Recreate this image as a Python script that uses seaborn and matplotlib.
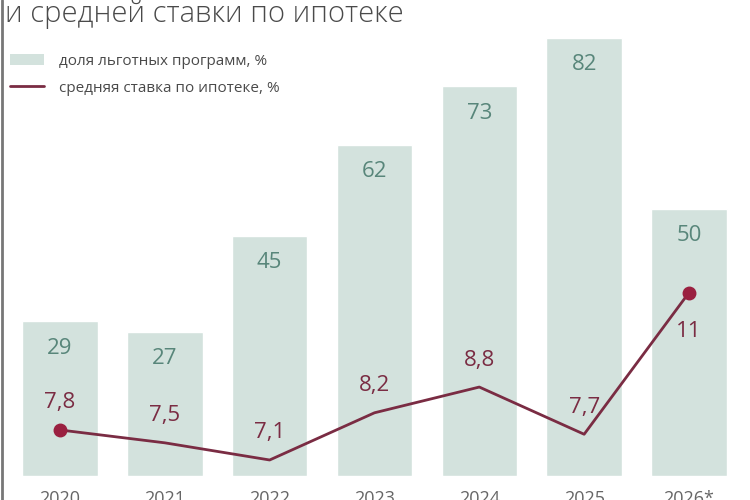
import numpy as np
import pandas as pd
import seaborn as sns
import matplotlib.pyplot as plt
from matplotlib.patches import Patch
from matplotlib.lines import Line2D

# data
years = ['2020', '2021', '2022', '2023', '2024', '2025', '2026*']
share_pct = [29, 27, 45, 62, 73, 82, 50]          # доля льготных программ, %
rate_pct = [7.8, 7.5, 7.1, 8.2, 8.8, 7.7, 11.0]    # средняя ставка по ипотеке, %
rate_labels = ['7,8', '7,5', '7,1', '8,2', '8,8', '7,7', '11']

bar_color = '#d3e2dd'
bar_text = '#58867a'
line_color = '#7a2c43'
dot_color = '#9a2040'
text_gray = '#4a4a4a'

sns.set_theme(style='white')
plt.rcParams['font.family'] = ['Open Sans', 'DejaVu Sans']

df = pd.DataFrame({'year': years, 'share': share_pct, 'rate': rate_pct})

fig = plt.figure(figsize=(7.5, 5), dpi=100)
ax = fig.add_axes([0.0101, 0.048, 0.9784, 0.952])

sns.barplot(data=df, x='year', y='share', color=bar_color, width=0.72,
            saturation=1, ax=ax)
ax.set_xlim(-0.5, 6.5)
ax.set_ylim(0, 89.1)

for i, v in enumerate(share_pct):
    ax.annotate(str(v), (i, v), xytext=(0, -27), textcoords='offset pixels',
                ha='center', va='center', fontsize=16, color=bar_text)

ax2 = ax.twinx()
sns.lineplot(data=df, x='year', y='rate', color=line_color, linewidth=2.0,
             ax=ax2, sort=False)
ax2.plot([0, 6], [rate_pct[0], rate_pct[-1]], 'o', color=dot_color, markersize=9, zorder=5)
ax2.set_ylim(6.727, 17.82)
ax2.set_xlim(-0.5, 6.5)

for i, (v, lab) in enumerate(zip(rate_pct, rate_labels)):
    dy = -39 if i == 6 else 27
    ax2.annotate(lab, (i, v), xytext=(0, dy), textcoords='offset pixels',
                 ha='center', va='center', fontsize=16, color=line_color)

for a in (ax, ax2):
    for s in a.spines.values():
        s.set_visible(False)
    a.set_yticks([])
    a.set_ylabel('')
ax.set_xlabel('')
ax2.set_xlabel('')
ax.tick_params(axis='x', length=0, pad=10, labelsize=13, labelcolor='#666666')

# title (cropped at the top in the reference)
fig.text(0.007, 1 - 22 / 500, 'и средней ставки по ипотеке', fontsize=21,
         color=text_gray, fontweight='light', ha='left', va='baseline')

handles = [Patch(facecolor=bar_color, edgecolor='none'),
           Line2D([], [], color=line_color, linewidth=2)]
fig.legend(handles, ['доля льготных программ, %', 'средняя ставка по ипотеке, %'],
           loc='upper left', bbox_to_anchor=(-0.005, 1 - 40 / 500), frameon=False,
           fontsize=11, labelcolor=text_gray, handlelength=2.2, handleheight=0.8,
           labelspacing=0.75, handletextpad=1.0)

# thin frame line on the left edge
fig.add_artist(Line2D([0.002, 0.002], [0, 1], color='#777777', linewidth=2,
                      transform=fig.transFigure))

fig.savefig('out.png', dpi=100)
